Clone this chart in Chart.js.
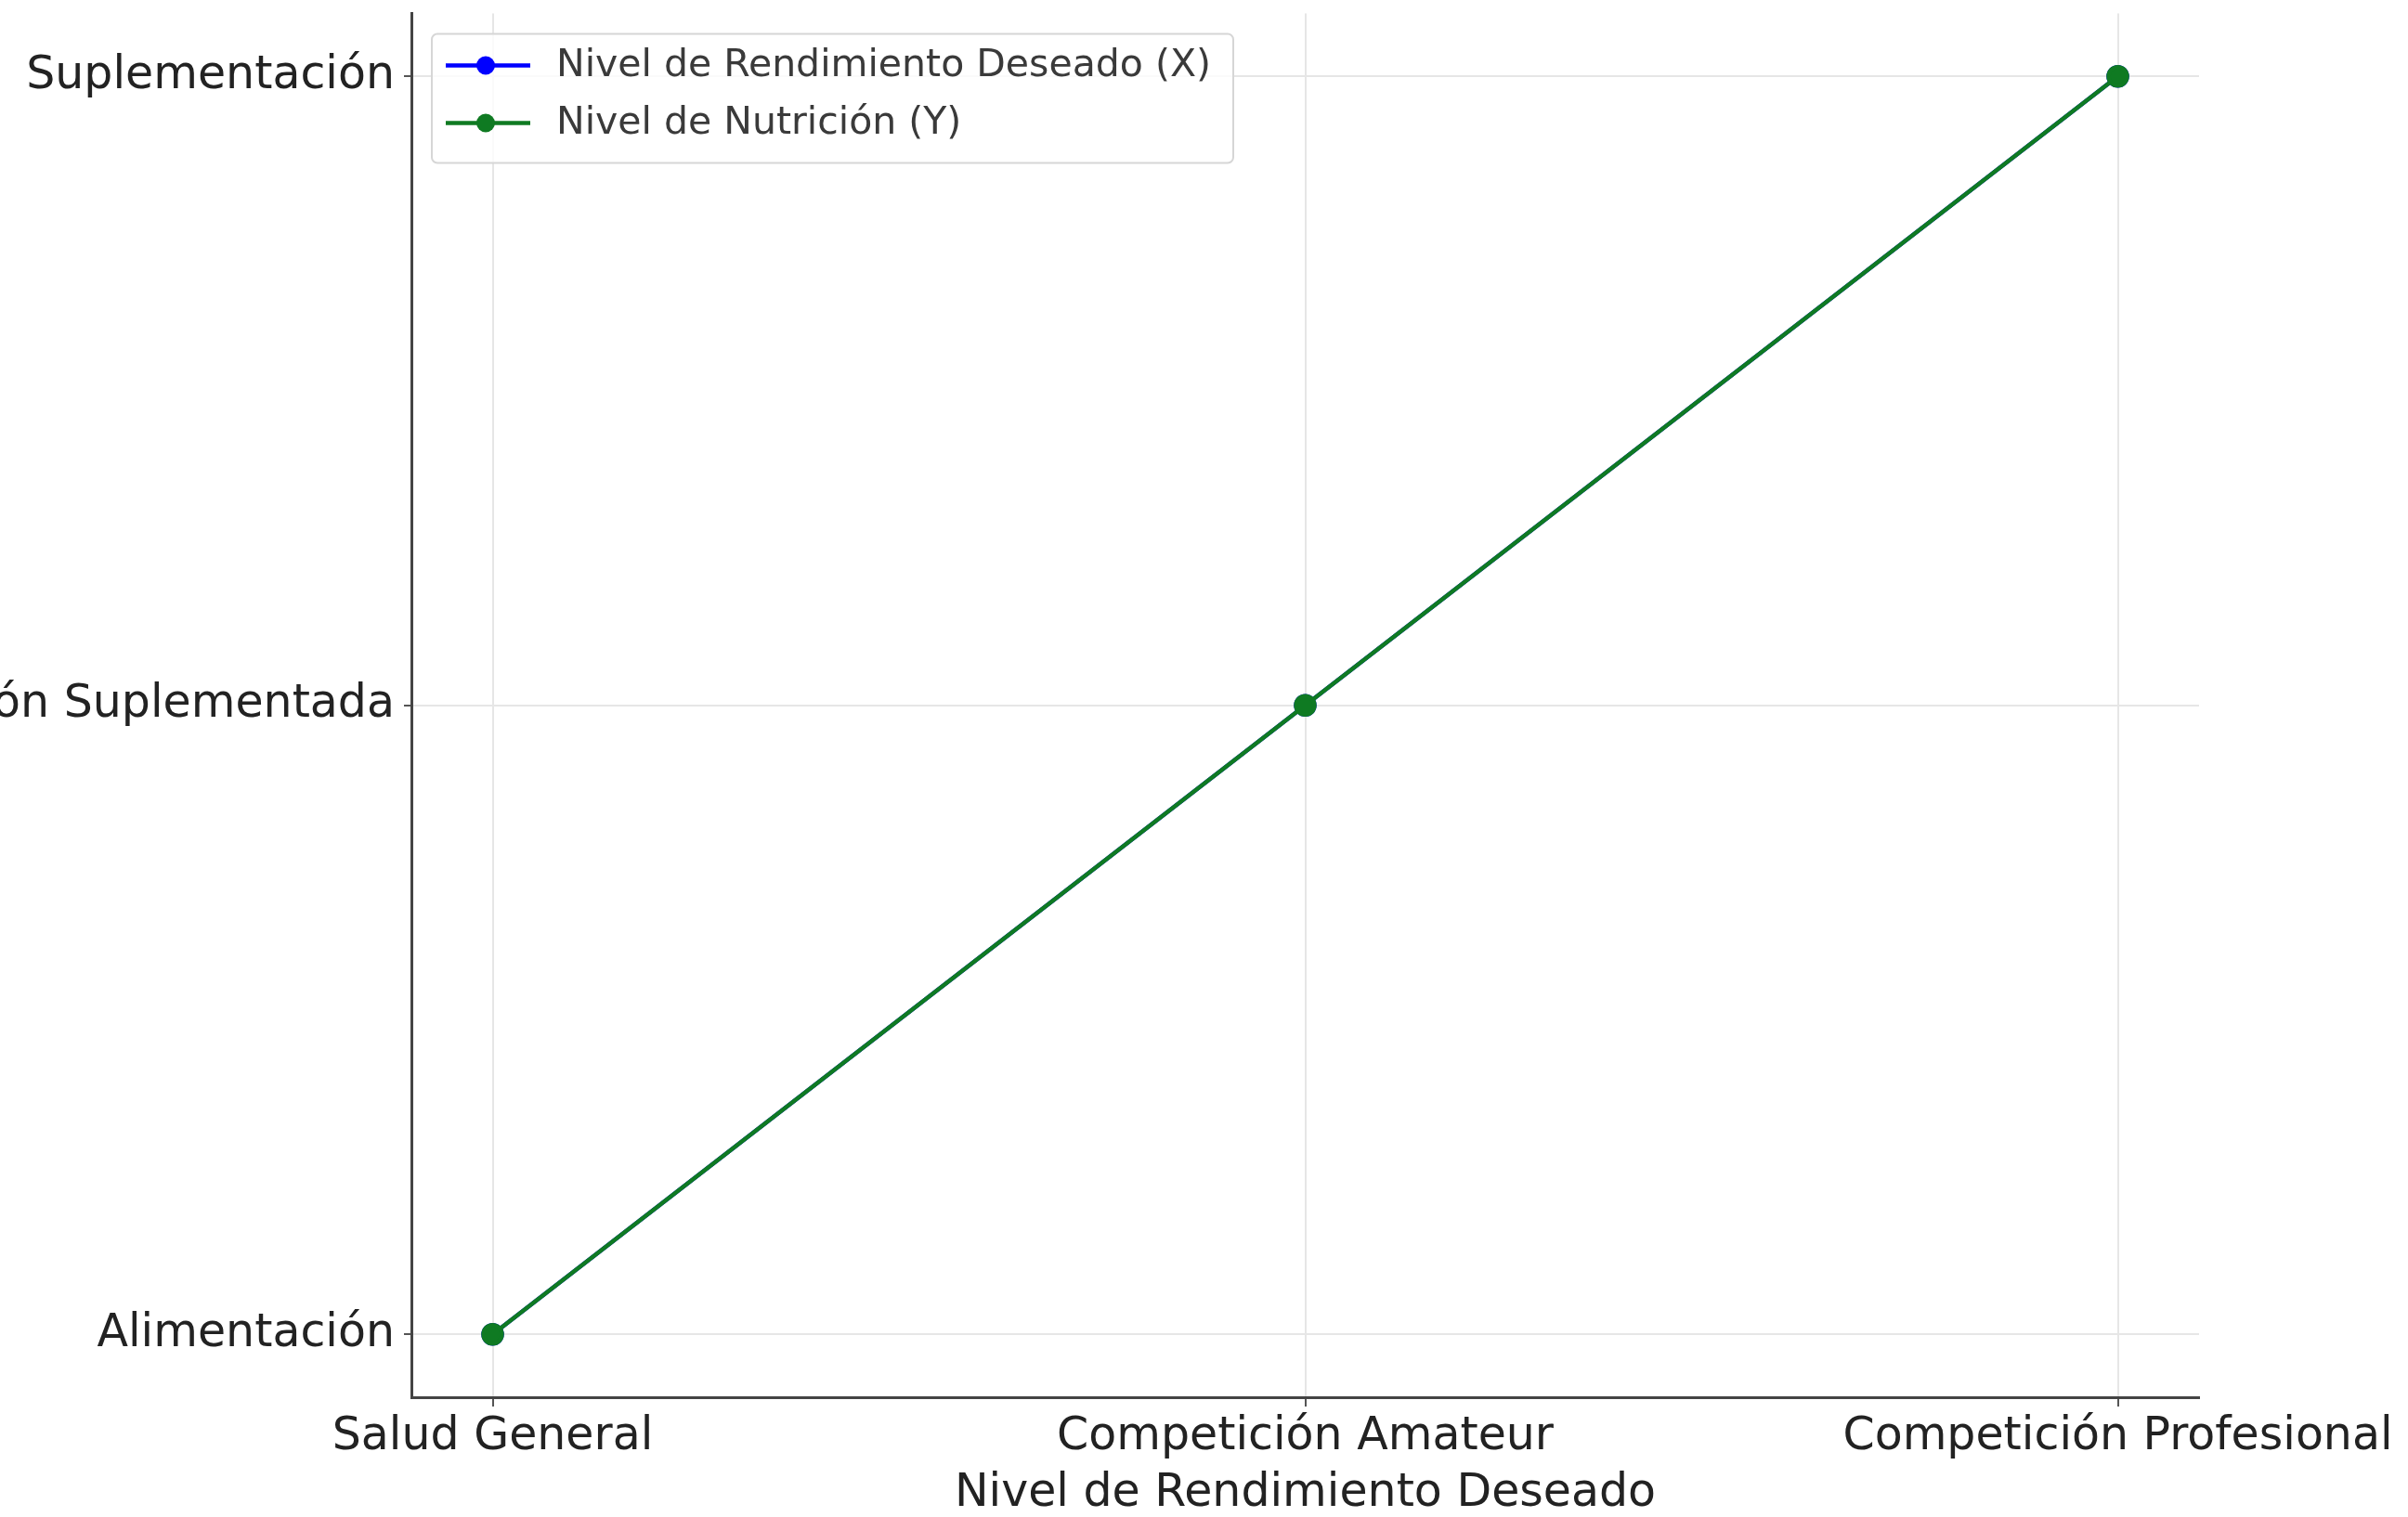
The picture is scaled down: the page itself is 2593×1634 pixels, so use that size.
<!DOCTYPE html>
<html>
<head>
<meta charset="utf-8">
<script src="https://cdn.jsdelivr.net/npm/chart.js@4/dist/chart.umd.min.js"></script>
<style>
	html, body {margin: 0; padding: 0; background: #fff; overflow: hidden; width: 2593px; height: 1634px;}
	#holder {position: absolute; left: -202px; top: 0; width: 2795px; height: 1634px;}
</style>
</head>
<body>
<div id="holder"><canvas id="grafico" width="2795" height="1634"></canvas></div>
<script>
'use strict'
// categorias de los ejes
const categoriasRendimiento = ["Salud General", "Competición Amateur", "Competición Profesional"];
const categoriasNutricion = ["Alimentación", "Nutrición Suplementada", "Suplementación"];
// series (las dos lineas coinciden, la verde tapa a la azul)
const serieRendimientoX = ["Salud General", "Competición Amateur", "Competición Profesional"];
const serieRendimientoY = ["Alimentación", "Nutrición Suplementada", "Suplementación"];
const serieNutricionX = ["Salud General", "Competición Amateur", "Competición Profesional"];
const serieNutricionY = ["Alimentación", "Nutrición Suplementada", "Suplementación"];
const etiquetasSeries = ["Nivel de Rendimiento Deseado (X)", "Nivel de Nutrición (Y)"];
const tituloEjeX = "Nivel de Rendimiento Deseado";

const fuente = "'DejaVu Sans', 'Liberation Sans', sans-serif";

let puntos = (xs, ys) => xs.map((item, i) => ({x: categoriasRendimiento.indexOf(item), y: categoriasNutricion.indexOf(ys[i])}));

// leyenda dentro del area, estilo matplotlib
const leyendaInterna = {
	id: "leyendaInterna",
	afterDraw(chart) {
		let ctx = chart.ctx, area = chart.chartArea;
		let left = area.left + 22, top = area.top + 22;
		ctx.save();
		ctx.font = `41px ${fuente}`;
		let anchoTexto = Math.max(...chart.data.datasets.map(ds => ctx.measureText(ds.label).width));
		let width = 134 + anchoTexto + 24, height = 139;
		ctx.beginPath();
		ctx.roundRect(left, top, width, height, 6);
		ctx.fillStyle = "rgba(255,255,255,0.8)";
		ctx.fill();
		ctx.lineWidth = 2;
		ctx.strokeStyle = "#d6d6d6";
		ctx.stroke();
		chart.data.datasets.forEach((ds, i) => {
			let y = top + 34 + i * 62;
			ctx.beginPath();
			ctx.moveTo(left + 15, y);
			ctx.lineTo(left + 106, y);
			ctx.lineWidth = ds.borderWidth;
			ctx.strokeStyle = ds.borderColor;
			ctx.stroke();
			ctx.beginPath();
			ctx.arc(left + 58, y, 10, 0, Math.PI * 2);
			ctx.fillStyle = ds.pointBackgroundColor;
			ctx.fill();
			ctx.fillStyle = "#3a3a3a";
			ctx.textBaseline = "middle";
			ctx.fillText(ds.label, left + 134, y + 1);
		});
		ctx.restore();
	}
};

let ctx = document.getElementById("grafico").getContext("2d");
let chart = new Chart(ctx, {
	type: "line",
	data: {
		datasets: [{
			label: etiquetasSeries[0],
			data: puntos(serieRendimientoX, serieRendimientoY),
			borderColor: "#0000ff",
			pointBackgroundColor: "#0000ff",
			pointBorderColor: "#0000ff",
			borderWidth: 4.5,
			pointRadius: 10,
			order: 1
		}, {
			label: etiquetasSeries[1],
			data: puntos(serieNutricionX, serieNutricionY),
			borderColor: "#0f7a22",
			pointBackgroundColor: "#0f7a22",
			pointBorderColor: "#0f7a22",
			borderWidth: 4.5,
			pointRadius: 10,
			order: 0
		}]
	},
	options: {
		responsive: false,
		animation: false,
		devicePixelRatio: 1,
		layout: {padding: {left: 0, top: 8, right: 225, bottom: 0}},
		plugins: {legend: {display: false}, tooltip: {enabled: false}},
		scales: {
			x: {
				type: "linear",
				min: -0.1,
				max: 2.1,
				afterBuildTicks: scale => { scale.ticks = categoriasRendimiento.map((c, i) => ({value: i})); },
				afterFit: scale => { scale.height = 129; },
				ticks: {
					callback: value => categoriasRendimiento[value],
					font: {family: fuente, size: 49},
					color: "#222",
					padding: 4,
					maxRotation: 0,
					autoSkip: false
				},
				grid: {color: "#e6e6e6", lineWidth: 2, tickLength: 10, tickColor: "#555", tickWidth: 2},
				border: {display: true, color: "#444", width: 3},
				title: {
					display: true,
					text: tituloEjeX,
					font: {family: fuente, size: 49, lineHeight: 1},
					color: "#222",
					padding: {top: 0, bottom: 0}
				}
			},
			y: {
				type: "linear",
				min: -0.1,
				max: 2.1,
				afterBuildTicks: scale => { scale.ticks = categoriasNutricion.map((c, i) => ({value: i})); },
				afterFit: scale => {
					scale.width = 645;
					scale.paddingTop = 0;
					scale.paddingBottom = 0;
				},
				ticks: {
					callback: value => categoriasNutricion[value],
					font: {family: fuente, size: 49},
					color: "#222",
					padding: 10,
					autoSkip: false
				},
				grid: {color: "#e6e6e6", lineWidth: 2, tickLength: 8, tickColor: "#555", tickWidth: 2},
				border: {display: true, color: "#444", width: 3}
			}
		}
	},
	plugins: [leyendaInterna]
});
</script>
</body>
</html>
